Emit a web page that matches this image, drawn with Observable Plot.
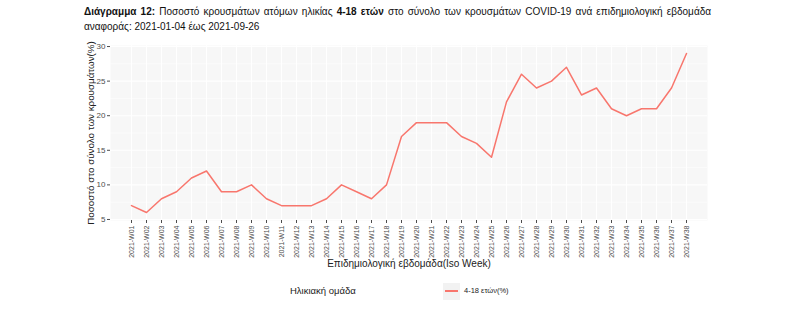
<!DOCTYPE html>
<html>
<head>
<meta charset="utf-8">
<script src="https://cdn.jsdelivr.net/npm/d3@7"></script>
<script src="https://cdn.jsdelivr.net/npm/@observablehq/plot@0.6"></script>
<style>
  body { margin: 0; background: #fff; width: 789px; height: 323px; position: relative; overflow: hidden; }
  #title { position: absolute; left: 84px; top: 4px; width: 627px; font-family: "Liberation Sans", Arial, sans-serif; font-size: 10px; color: #111; line-height: 15px; }
  #title .l1 { text-align: justify; text-align-last: justify; }
  #chart { position: absolute; left: 0; top: 40px; }
  #chart svg text { font-family: "Liberation Sans", Arial, sans-serif; }
  .leg { position: absolute; font-family: "Liberation Sans", Arial, sans-serif; color: #222; }
</style>
</head>
<body>
<div id="title">
  <div class="l1"><b>Διάγραμμα 12:</b> Ποσοστό κρουσμάτων ατόμων ηλικίας <b>4-18 ετών</b> στο σύνολο των κρουσμάτων COVID-19 ανά επιδημιολογική εβδομάδα</div>
  <div>αναφοράς: 2021-01-04 έως 2021-09-26</div>
</div>
<div id="chart"></div>
<div class="leg" style="left:290px; top:285px; font-size:9.5px;">Ηλικιακή ομάδα</div>
<div class="leg" style="left:443px; top:283px; width:17px; height:17px; background:#f2f2f2;"></div>
<div class="leg" style="left:445px; top:290px; width:13px; height:1.6px; background:#F8766D;"></div>
<div class="leg" style="left:464px; top:286px; font-size:7.5px;">4-18 ετών(%)</div>
<script>
const weeks = ["2021-W01","2021-W02","2021-W03","2021-W04","2021-W05","2021-W06","2021-W07","2021-W08","2021-W09","2021-W10",
  "2021-W11","2021-W12","2021-W13","2021-W14","2021-W15","2021-W16","2021-W17","2021-W18","2021-W19","2021-W20",
  "2021-W21","2021-W22","2021-W23","2021-W24","2021-W25","2021-W26","2021-W27","2021-W28","2021-W29","2021-W30",
  "2021-W31","2021-W32","2021-W33","2021-W34","2021-W35","2021-W36","2021-W37","2021-W38"];
const pct = [7,6,8,9,11,12,9,9,10,8,
  7,7,7,8,10,9,8,10,17,19,
  19,19,17,16,14,22,26,24,25,27,
  23,24,21,20,21,21,24,29];
const yTicks = [5,10,15,20,25,30];
const yMinor = [7.5,12.5,17.5,22.5,27.5];

const data = weeks.map((w, i) => ({week: w, value: pct[i]}));

const chart = Plot.plot({
  width: 789,
  height: 236,
  marginTop: 5,
  marginBottom: 56,
  marginLeft: 110,
  marginRight: 82,
  style: { fontFamily: "'Liberation Sans', Arial, sans-serif", background: "transparent" },
  x: { type: "point", domain: weeks, padding: 0.6, label: null },
  y: { domain: [4.85, 30.15], label: null },
  marks: [
    Plot.frame({ fill: "#f7f7f7", stroke: null }),
    Plot.gridY(yMinor, { stroke: "#ffffff", strokeOpacity: 1, strokeWidth: 0.6 }),
    Plot.gridY(yTicks, { stroke: "#ffffff", strokeOpacity: 1, strokeWidth: 1.1 }),
    Plot.gridX(weeks, { stroke: "#ffffff", strokeOpacity: 1, strokeWidth: 1.1 }),
    Plot.axisY(yTicks, { tickSize: 3, tickPadding: 2, fontSize: 8, color: "#4d4d4d", stroke: "#4d4d4d", label: null }),
    Plot.axisX(weeks, { tickSize: 3, tickPadding: 2, tickRotate: -90, fontSize: 7, color: "#4d4d4d", stroke: "#4d4d4d", label: null }),
    Plot.lineY(data, { x: "week", y: "value", stroke: "#F8766D", strokeWidth: 1.5 }),
    Plot.text(["Ποσοστό στο σύνολο των κρουσμάτων(%)"], { frameAnchor: "left", dx: -20, rotate: -90, fontSize: 9.8, fill: "#222", textAnchor: "middle" }),
    Plot.text(["Επιδημιολογική εβδομάδα(Iso Week)"], { frameAnchor: "bottom", dy: 46, fontSize: 10, fill: "#222", textAnchor: "middle" })
  ]
});
document.getElementById("chart").appendChild(chart);
</script>
</body>
</html>
